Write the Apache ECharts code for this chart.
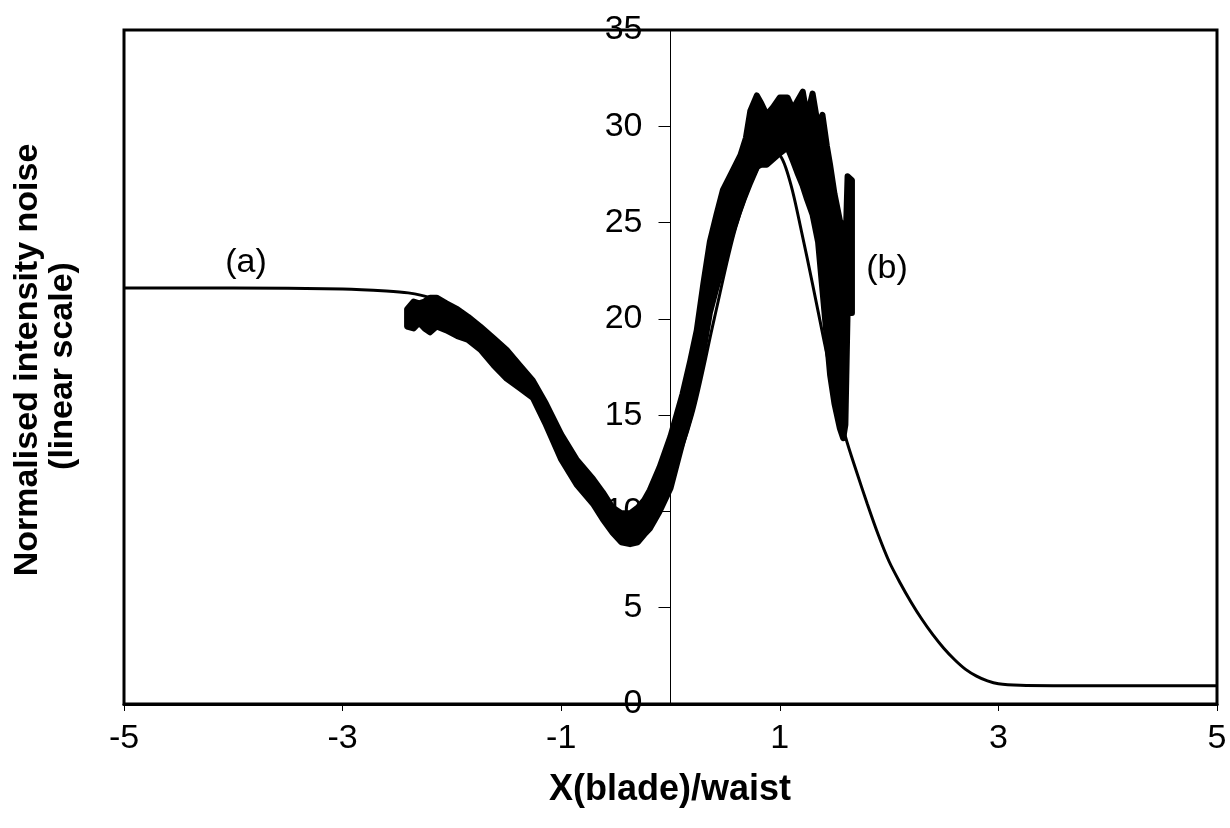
<!DOCTYPE html>
<html>
<head>
<meta charset="utf-8">
<script src="https://cdn.jsdelivr.net/npm/echarts@6/dist/echarts.min.js"></script>
<style>html,body{margin:0;padding:0;background:#fff}#c{width:1230px;height:828px}</style>
</head>
<body>
<div id="c"></div>
<script>
// Theoretical curve (a)
const xA = [-5, -4, -3, -2.6, -2.4, -2.2, -2.0, -1.8, -1.6, -1.4, -1.2, -1.0, -0.8, -0.6, -0.4, -0.2, 0, 0.2, 0.4, 0.6, 0.8, 0.9, 1.0, 1.1, 1.2, 1.3, 1.4, 1.5, 1.6, 1.7, 1.8, 1.9, 2.0, 2.1, 2.2, 2.3, 2.4, 2.5, 2.6, 2.7, 2.8, 2.9, 3.0, 3.2, 3.5, 4, 5];
const yA = [21.6, 21.6, 21.55, 21.45, 21.35, 21.1, 20.6, 19.8, 18.6, 17.0, 15.3, 13.5, 11.8, 10.4, 9.6, 10.0, 11.8, 15.0, 20.0, 24.8, 27.8, 28.6, 28.5, 27.0, 24.5, 21.8, 19.0, 16.3, 13.9, 12.1, 10.4, 8.8, 7.4, 6.3, 5.3, 4.4, 3.6, 2.9, 2.3, 1.8, 1.45, 1.2, 1.05, 0.97, 0.95, 0.95, 0.95];

// Measured noise (b): upper and lower envelope of the noisy trace
const xB = [-2.41, -2.35, -2.3, -2.25, -2.2, -2.14, -2.05, -1.95, -1.85, -1.74, -1.62, -1.5, -1.38, -1.26, -1.14, -1.0, -0.86, -0.71, -0.62, -0.53, -0.45, -0.37, -0.3, -0.24, -0.19, -0.1, 0.0, 0.11, 0.18, 0.24, 0.3, 0.36, 0.42, 0.48, 0.56, 0.64, 0.69, 0.73, 0.79, 0.83, 0.88, 0.94, 1.0, 1.07, 1.12, 1.16, 1.21, 1.25, 1.30, 1.35, 1.39, 1.43, 1.46, 1.50, 1.55, 1.58, 1.60, 1.62, 1.66];
const yBup = [20.5, 20.9, 20.8, 20.9, 21.1, 21.1, 20.8, 20.5, 20.1, 19.6, 19.0, 18.4, 17.6, 16.8, 15.6, 14.0, 12.7, 11.7, 11.0, 10.2, 9.9, 9.9, 10.2, 10.6, 11.1, 12.3, 13.9, 16.1, 17.8, 19.4, 21.8, 24.0, 25.4, 26.7, 27.6, 28.5, 29.4, 30.8, 31.6, 31.2, 30.6, 31.0, 31.5, 31.5, 30.9, 31.3, 31.8, 30.5, 31.7, 30.0, 30.6, 29.0, 28.0, 26.5, 25.1, 24.8, 23.5, 27.4, 27.2];
const yBlo = [19.6, 19.5, 19.8, 19.5, 19.3, 19.6, 19.4, 19.1, 18.9, 18.4, 17.6, 16.9, 16.4, 15.9, 14.5, 12.7, 11.4, 10.4, 9.6, 8.9, 8.4, 8.3, 8.4, 8.8, 9.1, 10.0, 11.2, 13.6, 15.0, 16.4, 18.3, 20.3, 21.6, 22.8, 24.4, 25.8, 26.6, 27.2, 27.9, 28.0, 28.0, 28.3, 28.6, 28.9, 28.2, 27.6, 26.9, 26.2, 25.4, 24.0, 21.5, 19.0, 17.1, 15.6, 14.3, 13.8, 14.5, 20.3, 20.3];

const xTicks = [-5, -3, -1, 1, 3, 5];
const yTicks = [0, 5, 10, 15, 20, 25, 30, 35];

const FONT = '"Liberation Sans", Arial, sans-serif';
const GRID_LEFT = 124;
const chart = echarts.init(document.getElementById('c'), null, {renderer: 'canvas'});

const lineA = xA.map((x, i) => [x, yA[i]]);

chart.setOption({
  animation: false,
  backgroundColor: '#ffffff',
  grid: {left: GRID_LEFT, right: 13, top: 30, bottom: 124, show: true, borderColor: '#000', borderWidth: 3, containLabel: false},
  xAxis: {
    type: 'value', min: xTicks[0], max: xTicks[xTicks.length - 1], interval: 2,
    axisLine: {show: true, onZero: false, lineStyle: {color: '#000', width: 3}},
    axisTick: {show: true, inside: false, length: 7, lineStyle: {color: '#000', width: 1}},
    axisLabel: {color: '#000', fontFamily: FONT, fontSize: 34, margin: 18},
    splitLine: {show: false}
  },
  yAxis: {
    type: 'value', min: yTicks[0], max: yTicks[yTicks.length - 1], interval: 5,
    axisLine: {show: true, onZero: false, lineStyle: {color: '#000', width: 1}},
    axisTick: {show: true, inside: false, length: 12, lineStyle: {color: '#000', width: 1}},
    axisLabel: {color: '#000', fontFamily: FONT, fontSize: 34, margin: 28},
    splitLine: {show: false}
  },
  graphic: [
    {type: 'text', x: 670, y: 790, style: {text: 'X(blade)/waist', font: 'bold 36px ' + FONT, fill: '#000', textAlign: 'center', textVerticalAlign: 'middle'}},
    {type: 'text', x: 28, y: 360, rotation: Math.PI / 2, style: {text: 'Normalised intensity noise', font: 'bold 34px ' + FONT, fill: '#000', textAlign: 'center', textVerticalAlign: 'middle'}},
    {type: 'text', x: 63, y: 366, rotation: Math.PI / 2, style: {text: '(linear scale)', font: 'bold 34px ' + FONT, fill: '#000', textAlign: 'center', textVerticalAlign: 'middle'}},
    {type: 'text', x: 246, y: 263, style: {text: '(a)', font: '34px ' + FONT, fill: '#000', textAlign: 'center', textVerticalAlign: 'middle'}},
    {type: 'text', x: 887, y: 269, style: {text: '(b)', font: '34px ' + FONT, fill: '#000', textAlign: 'center', textVerticalAlign: 'middle'}}
  ],
  series: [
    {
      type: 'custom',
      name: '(b)',
      data: [[xB[0], yBup[0]]],
      renderItem: function (params, api) {
        const pts = [];
        for (let i = 0; i < xB.length; i++) pts.push(api.coord([xB[i], yBup[i]]));
        for (let i = xB.length - 1; i >= 0; i--) pts.push(api.coord([xB[i], yBlo[i]]));
        return {type: 'polygon', shape: {points: pts}, style: {fill: '#000', stroke: '#000', lineWidth: 6, lineJoin: 'round'}};
      },
      z: 2
    },
    {
      type: 'line', name: '(a)', data: lineA, smooth: 0.3, showSymbol: false,
      lineStyle: {color: '#000', width: 3}, z: 3
    }
  ]
});

// place the y axis on x = 0, as in the original figure
const px0 = chart.convertToPixel({xAxisIndex: 0}, 0);
chart.setOption({yAxis: {offset: -(px0 - GRID_LEFT)}});
</script>
</body>
</html>
